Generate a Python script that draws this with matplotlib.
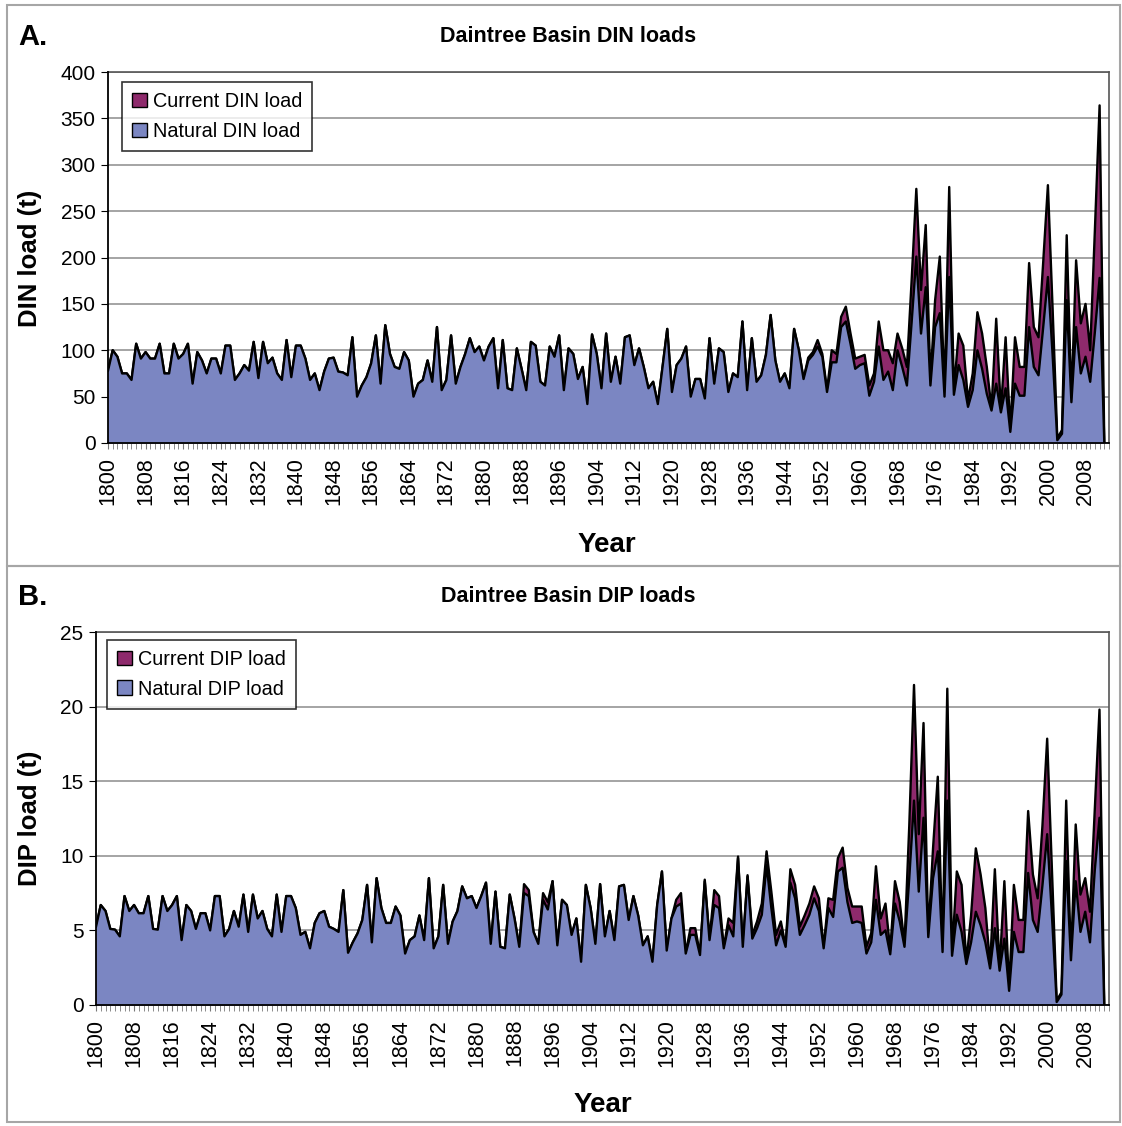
import numpy as np
import matplotlib
matplotlib.use('Agg')
from matplotlib import pyplot as plt
from matplotlib.patches import Patch, Rectangle
from matplotlib.ticker import MultipleLocator

plt.rcParams['font.family'] = ['Liberation Sans', 'DejaVu Sans']

years = np.arange(1800, 2013)

# annual DIN loads (t), 1800-2012, ten years per row
din_natural = [
    78, 100, 93, 75, 75, 68, 107, 91, 98, 91,
    91, 107, 75, 75, 107, 91, 96, 107, 64, 98,
    89, 75, 91, 91, 75, 105, 105, 68, 75, 84,
    78, 109, 70, 109, 86, 92, 75, 68, 111, 71,
    105, 105, 91, 68, 75, 57, 77, 91, 92, 77,
    76, 73, 114, 50, 62, 71, 86, 116, 64, 127,
    96, 82, 80, 98, 89, 50, 64, 68, 89, 66,
    125, 57, 68, 116, 64, 82, 96, 113, 98, 104,
    89, 104, 113, 59, 111, 59, 57, 102, 80, 57,
    109, 105, 66, 62, 104, 93, 116, 57, 102, 96,
    69, 82, 42, 117, 96, 59, 118, 66, 93, 64,
    114, 116, 84, 102, 82, 59, 66, 42, 82, 123,
    55, 84, 91, 104, 50, 69, 69, 48, 113, 64,
    102, 98, 55, 75, 71, 131, 57, 113, 66, 73,
    95, 138, 89, 66, 75, 59, 123, 100, 69, 89,
    95, 104, 93, 55, 87, 87, 125, 131, 107, 80,
    84, 86, 51, 66, 104, 68, 77, 57, 100, 82,
    62, 130, 201, 118, 168, 62, 125, 140, 50, 179,
    52, 84, 68, 39, 57, 100, 80, 53, 35, 64,
    33, 59, 12, 64, 51, 51, 125, 82, 73, 125,
    179, 95, 3, 10, 154, 44, 125, 75, 93, 66,
    120, 178, 0,
]
din_current = [
    78, 100, 93, 75, 75, 68, 107, 91, 98, 91,
    91, 107, 75, 75, 107, 91, 96, 107, 64, 98,
    89, 75, 91, 91, 75, 105, 105, 68, 75, 84,
    78, 109, 70, 109, 86, 92, 75, 68, 111, 71,
    105, 105, 91, 68, 75, 57, 77, 91, 92, 77,
    76, 73, 114, 50, 62, 71, 86, 116, 64, 127,
    96, 82, 80, 98, 89, 50, 64, 68, 89, 66,
    125, 57, 68, 116, 64, 82, 96, 113, 98, 104,
    89, 104, 113, 59, 111, 59, 57, 102, 80, 57,
    109, 105, 66, 62, 104, 93, 116, 57, 102, 96,
    69, 82, 42, 117, 96, 59, 118, 66, 93, 64,
    114, 116, 84, 102, 82, 59, 66, 42, 82, 123,
    55, 84, 91, 104, 50, 69, 69, 48, 113, 64,
    102, 98, 55, 75, 71, 131, 57, 113, 66, 73,
    95, 138, 89, 66, 75, 59, 123, 100, 69, 92,
    98, 111, 96, 57, 100, 96, 136, 147, 118, 91,
    93, 95, 62, 75, 131, 100, 100, 86, 118, 102,
    82, 175, 274, 165, 235, 68, 154, 201, 55, 276,
    57, 118, 105, 46, 75, 141, 118, 82, 37, 134,
    35, 114, 14, 114, 82, 82, 194, 125, 114, 195,
    278, 145, 5, 14, 224, 46, 197, 129, 150, 100,
    230, 364, 0,
]

# annual DIP loads (t), 1800-2012
dip_natural = [
    5.25, 6.7, 6.3, 5.1, 5.05, 4.6, 7.3, 6.3, 6.7, 6.15,
    6.15, 7.3, 5.1, 5.05, 7.3, 6.3, 6.7, 7.3, 4.35, 6.7,
    6.3, 5.1, 6.15, 6.15, 5.0, 7.3, 7.3, 4.6, 5.1, 6.3,
    5.25, 7.4, 4.9, 7.4, 5.8, 6.3, 5.1, 4.6, 7.4, 4.9,
    7.3, 7.3, 6.5, 4.7, 4.9, 3.8, 5.5, 6.15, 6.3, 5.25,
    5.1, 4.9, 7.7, 3.5, 4.2, 4.8, 5.7, 8.05, 4.2, 8.5,
    6.5, 5.5, 5.5, 6.6, 6.0, 3.45, 4.35, 4.6, 6.0, 4.35,
    8.5, 3.8, 4.6, 8.05, 4.1, 5.6, 6.3, 7.95, 7.15, 7.3,
    6.5, 7.3, 8.2, 4.1, 7.6, 3.9, 3.8, 7.4, 5.8, 3.9,
    7.5, 7.3, 4.9, 4.1, 7.05, 6.4, 8.3, 4.0, 7.05, 6.7,
    4.7, 5.8, 2.9, 8.05, 6.5, 4.1, 8.1, 4.6, 6.3, 4.35,
    7.95, 8.05, 5.7, 7.3, 6.0, 4.0, 4.6, 2.9, 6.7, 8.95,
    3.65, 5.8, 6.6, 6.8, 3.45, 4.7, 4.7, 3.35, 8.3, 4.35,
    6.7, 6.5, 3.8, 5.35, 4.6, 9.85, 3.9, 8.6, 4.45, 5.15,
    6.05, 9.4, 6.5, 4.0, 5.0, 3.9, 8.2, 7.15, 4.7, 5.35,
    6.05, 7.15, 6.3, 3.8, 6.5, 5.9, 8.95, 9.2, 6.9, 5.5,
    5.6, 5.5, 3.45, 4.2, 7.05, 4.7, 5.0, 3.4, 6.8, 5.6,
    3.9, 8.5, 13.7, 7.6, 12.55, 4.55, 8.5, 10.3, 3.55, 13.7,
    3.3, 6.05, 4.9, 2.75, 4.2, 6.25, 5.35, 4.2, 2.45, 5.15,
    2.3, 4.45, 0.95, 4.9, 3.55, 3.55, 8.85, 5.7, 4.9, 8.0,
    11.45, 6.0, 0.2, 0.7, 9.65, 3.0, 8.3, 4.9, 6.25, 4.2,
    9.0, 12.55, 0,
]
dip_current = [
    5.25, 6.7, 6.3, 5.1, 5.05, 4.6, 7.3, 6.3, 6.7, 6.15,
    6.15, 7.3, 5.1, 5.05, 7.3, 6.3, 6.7, 7.3, 4.35, 6.7,
    6.3, 5.1, 6.15, 6.15, 5.0, 7.3, 7.3, 4.6, 5.1, 6.3,
    5.25, 7.4, 4.9, 7.4, 5.8, 6.3, 5.1, 4.6, 7.4, 4.9,
    7.3, 7.3, 6.5, 4.7, 4.9, 3.8, 5.5, 6.15, 6.3, 5.25,
    5.1, 4.9, 7.7, 3.5, 4.2, 4.8, 5.7, 8.05, 4.2, 8.5,
    6.5, 5.5, 5.5, 6.6, 6.0, 3.45, 4.35, 4.6, 6.0, 4.35,
    8.5, 3.8, 4.6, 8.05, 4.1, 5.6, 6.3, 7.95, 7.15, 7.3,
    6.5, 7.3, 8.2, 4.1, 7.6, 3.9, 3.8, 7.4, 5.8, 3.9,
    8.1, 7.7, 4.9, 4.1, 7.5, 6.9, 8.3, 4.0, 7.05, 6.7,
    4.7, 5.8, 2.9, 8.05, 6.5, 4.1, 8.1, 4.6, 6.3, 4.35,
    7.95, 8.05, 5.7, 7.3, 6.0, 4.0, 4.6, 2.9, 6.7, 8.95,
    3.65, 5.8, 7.05, 7.5, 3.5, 5.15, 5.15, 3.4, 8.4, 4.45,
    7.7, 7.3, 3.85, 5.8, 5.5, 9.95, 3.95, 8.7, 4.7, 5.6,
    6.8, 10.3, 7.6, 4.7, 5.6, 3.95, 9.1, 8.05, 5.25, 6.0,
    6.8, 7.95, 7.15, 3.85, 7.15, 7.05, 9.85, 10.55, 7.85, 6.6,
    6.6, 6.6, 3.9, 4.8, 9.3, 5.8, 6.8, 3.7, 8.3, 6.9,
    4.1, 12.0, 21.45, 11.45, 18.9, 4.7, 10.5, 15.3, 3.65, 21.2,
    3.45, 8.95, 8.05, 2.9, 6.0, 10.5, 8.75, 6.5, 2.65, 9.1,
    2.45, 8.3, 1.1, 8.05, 5.7, 5.7, 13.0, 8.75, 7.15, 12.0,
    17.85, 9.0, 0.3, 0.85, 13.7, 3.1, 12.1, 7.4, 8.5, 6.25,
    13.0, 19.8, 0,
]

NATURAL_COL = '#7b86c2'
CURRENT_COL = '#8e2a6c'
W, H = 1122, 1126


def fx(px):
    return px / W


def fy(py):
    return 1 - py / H


def draw_panel(ax, natural, current, ymax, ystep, nutrient):
    ax.fill_between(years, current, color=CURRENT_COL, lw=0, zorder=2)
    ax.plot(years, current, color='black', lw=1.7, zorder=3)
    ax.fill_between(years, natural, color=NATURAL_COL, lw=0, zorder=4)
    ax.plot(years, natural, color='black', lw=1.7, zorder=5)

    ax.set_xlim(1800, 2013)
    ax.set_ylim(0, ymax)
    ax.yaxis.set_major_locator(MultipleLocator(ystep))
    ax.grid(axis='y', color='#8c8c8c', lw=1.1, zorder=1)
    ax.set_axisbelow(True)

    ax.set_xticks(np.arange(1800, 2009, 8))
    ax.set_xticklabels([str(y) for y in range(1800, 2009, 8)], rotation=90)
    ax.xaxis.set_minor_locator(MultipleLocator(1))
    ax.tick_params(axis='x', which='both', direction='out', length=4,
                   color='#777777', labelsize=15.5, pad=6)
    ax.tick_params(axis='y', direction='out', length=5, labelsize=15, pad=4)

    for side in ('top', 'right'):
        ax.spines[side].set_color('#555555')
        ax.spines[side].set_linewidth(1.2)
    for side in ('left', 'bottom'):
        ax.spines[side].set_color('black')
        ax.spines[side].set_linewidth(1.3)
        ax.spines[side].set_zorder(6)

    handles = [Patch(facecolor=CURRENT_COL, edgecolor='black', lw=1),
               Patch(facecolor=NATURAL_COL, edgecolor='black', lw=1)]
    labels = ['Current %s load' % nutrient, 'Natural %s load' % nutrient]
    return handles, labels


def add_legend(ax, handles, labels, anchor):
    leg = ax.legend(handles, labels, loc='upper left', bbox_to_anchor=anchor,
                    fontsize=14.3, frameon=True, fancybox=False, edgecolor='black',
                    handlelength=0.75, handleheight=0.75, handletextpad=0.3,
                    borderpad=0.5, labelspacing=0.55, borderaxespad=0)
    leg.get_frame().set_linewidth(1.2)
    leg.set_zorder(10)


fig = plt.figure(figsize=(W / 100, H / 100), dpi=100)

# panel frames
for top, bottom in ((5, 566), (566, 1122)):
    fig.add_artist(Rectangle((fx(7), fy(bottom)), fx(1120) - fx(7), fy(top) - fy(bottom),
                             transform=fig.transFigure, fill=False,
                             ec='#a6a6a6', lw=1.5))

# A. DIN
ax1 = fig.add_axes([fx(108), fy(443), fx(1109) - fx(108), fy(72) - fy(443)])
h, l = draw_panel(ax1, din_natural, din_current, 400, 50, 'DIN')
add_legend(ax1, h, l, (0.014, 0.973))

fig.text(fx(18), fy(37), 'A.', fontsize=21, fontweight='bold', va='center')
fig.text(fx(568), fy(37), 'Daintree Basin DIN loads', fontsize=15.5,
         fontweight='bold', ha='center', va='center')
fig.text(fx(30), fy(258), 'DIN load (t)', fontsize=18.5, fontweight='bold',
         rotation=90, ha='center', va='center')
fig.text(fx(607), fy(545), 'Year', fontsize=20, fontweight='bold',
         ha='center', va='center')

# B. DIP
ax2 = fig.add_axes([fx(96), fy(1005), fx(1109) - fx(96), fy(632) - fy(1005)])
h, l = draw_panel(ax2, dip_natural, dip_current, 25, 5, 'DIP')
add_legend(ax2, h, l, (0.011, 0.979))

fig.text(fx(18), fy(597), 'B.', fontsize=21, fontweight='bold', va='center')
fig.text(fx(568), fy(597), 'Daintree Basin DIP loads', fontsize=15.5,
         fontweight='bold', ha='center', va='center')
fig.text(fx(30), fy(818), 'DIP load (t)', fontsize=18.5, fontweight='bold',
         rotation=90, ha='center', va='center')
fig.text(fx(603), fy(1105), 'Year', fontsize=20, fontweight='bold',
         ha='center', va='center')

fig.savefig('out.png', dpi=100)
